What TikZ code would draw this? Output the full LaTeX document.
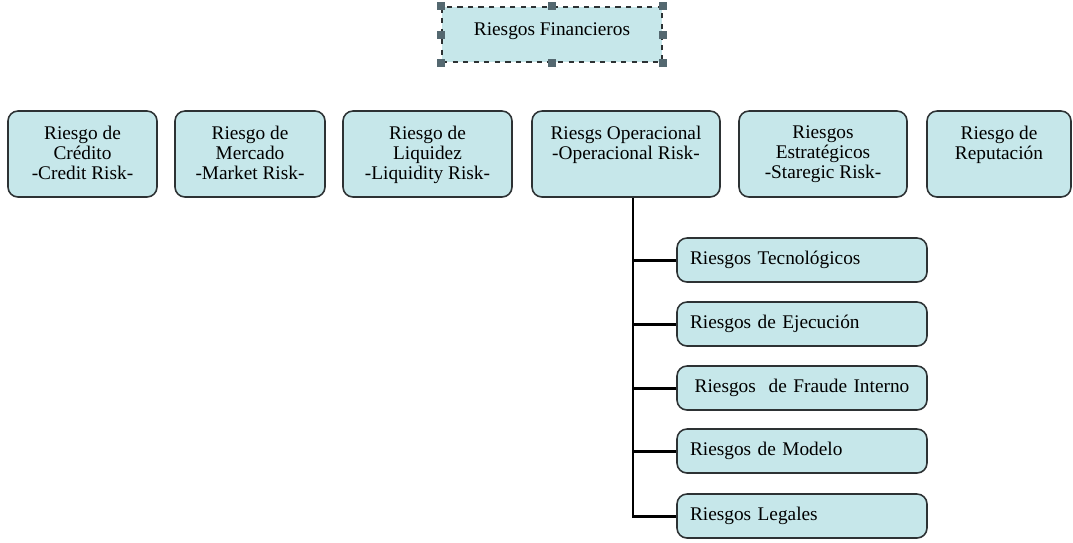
\documentclass[tikz,border=0pt]{standalone}
\usepackage{fontspec}
\setmainfont{Liberation Serif}
\usetikzlibrary{positioning}
\definecolor{boxfill}{RGB}{198,231,234}
\definecolor{boxline}{RGB}{45,50,52}
\definecolor{handle}{RGB}{84,104,112}
\newdimen\pxu \pxu=0.02cm
\newcommand\topcell[2]{\parbox[c][48pt][t]{#1}{\centering\vspace*{8pt}#2}}

\begin{document}
\begin{tikzpicture}[x=0.02cm, y=-0.02cm,
	font=\fontsize{11}{11.3}\selectfont,
	riskbox/.style={draw=boxline, line width=0.9pt, fill=boxfill, rounded corners=0.2cm,
		inner xsep=0pt, inner ysep=0pt, minimum height=86\pxu},
	subbox/.style={draw=boxline, line width=0.9pt, fill=boxfill, rounded corners=0.2cm,
		inner xsep=13\pxu, text width=224\pxu, align=left, minimum height=44\pxu},
	conn/.style={line width=1.7pt, black}]
		%%%%% START %%%%%
		\useasboundingbox (0,0) rectangle (1073,542);
		
		\node[draw=boxline, dashed, line width=0.8pt, fill=boxfill, minimum width=220\pxu, minimum height=55\pxu, text depth=6pt] (fin) at (552,34.5) {Riesgos Financieros};
		\foreach \a in {north west,north,north east,west,east,south west,south,south east}
			\fill[handle] (fin.\a) ++(-4,-4) rectangle ++(8,8);
		
		\node[riskbox, minimum width=149\pxu] (cred) at (82.5,154) {\topcell{139\pxu}{Riesgo de\\Crédito\\-Credit Risk-}};
		\node[riskbox, minimum width=150\pxu] (merc) at (250,154) {\topcell{140\pxu}{Riesgo de\\Mercado\\-Market Risk-}};
		\node[riskbox, minimum width=169\pxu] (liq) at (427.5,154) {\topcell{159\pxu}{Riesgo de\\Liquidez\\-Liquidity Risk-}};
		\node[riskbox, minimum width=188\pxu] (oper) at (626,154) {\topcell{178\pxu}{Riesgs Operacional\\-Operacional Risk-}};
		\node[riskbox, minimum width=168\pxu] (estr) at (823,154) {\topcell{158\pxu}{Riesgos\\Estratégicos\\-Staregic Risk-}};
		\node[riskbox, minimum width=144\pxu] (rep) at (999,154) {\topcell{134\pxu}{Riesgo de\\Reputación}};
		
		\node[subbox] (tec) at (802,260) {Riesgos Tecnológicos};
		\node[subbox] (eje) at (802,324) {Riesgos de Ejecución};
		\node[subbox, align=center] (fra) at (802,388) {Riesgos\ \ de Fraude Interno};
		\node[subbox] (mod) at (802,451) {Riesgos de Modelo};
		\node[subbox] (leg) at (802,516) {Riesgos Legales};
		
		\coordinate (trunk) at ([xshift=7\pxu]oper.south);
		\draw[conn] (trunk) |- (leg.west);
		\foreach \n in {tec,eje,fra,mod}
			\draw[conn] (\n.west) -- (\n.west -| trunk);
		%%%%% END %%%%%
\end{tikzpicture}
\end{document}
